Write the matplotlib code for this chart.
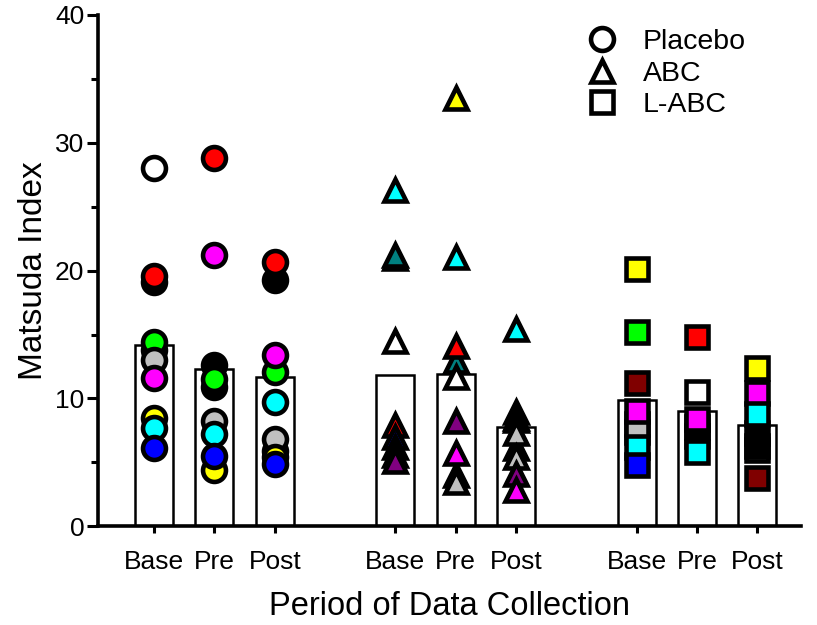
import numpy as np
import matplotlib.pyplot as plt
from matplotlib.lines import Line2D

plt.rcParams['font.family'] = ['Liberation Sans', 'DejaVu Sans']

nan = np.nan

# x positions of the three periods in each group
periods = ['Base', 'Pre', 'Post']
group_pos = {'Placebo': [1, 2, 3], 'ABC': [5, 6, 7], 'L-ABC': [9, 10, 11]}
group_marker = {'Placebo': 'o', 'ABC': '^', 'L-ABC': 's'}

# mean bars (Base, Pre, Post)
placebo_mean = [14.2, 12.3, 11.7]
abc_mean = [11.8, 11.9, 7.8]
labc_mean = [9.9, 9.0, 7.9]

# individual subjects: colour -> [Base, Pre, Post]
placebo_subj = [
    ('white',   [28.0, nan, nan]),
    ('black',   [19.1, 12.6, 19.3]),
    ('red',     [19.6, 28.8, 20.7]),
    ('black',   [13.8, 10.9, 5.9]),
    ('lime',    [14.4, 11.5, 12.1]),
    ('#c0c0c0', [13.0, 8.2, 6.8]),
    ('magenta', [11.6, 21.2, 13.4]),
    ('yellow',  [8.5, 4.4, 5.4]),
    ('cyan',    [7.7, 7.2, 9.7]),
    ('blue',    [6.1, 5.5, 4.85]),
]
abc_subj = [
    ('cyan',    [26.3, 21.1, 15.4]),
    ('black',   [21.0, nan, nan]),
    ('#008080', [21.2, 12.9, 8.3]),
    ('white',   [14.5, 11.7, nan]),
    ('red',     [7.9, 14.1, 8.9]),
    ('black',   [nan, nan, 8.5]),
    ('blue',    [7.0, nan, nan]),
    ('black',   [6.2, 4.0, 6.1]),
    ('#c0c0c0', [nan, 3.5, 7.3]),
    ('#c0c0c0', [nan, nan, 5.4]),
    ('black',   [5.6, nan, nan]),
    ('purple',  [5.1, 8.2, 4.1]),
    ('yellow',  [nan, 33.5, nan]),
    ('magenta', [nan, 5.7, 2.8]),
]
labc_subj = [
    ('yellow',  [20.1, nan, 12.4]),
    ('lime',    [15.2, nan, nan]),
    ('#800000', [11.2, 7.1, 3.8]),
    ('red',     [nan, 14.8, nan]),
    ('white',   [nan, 10.5, nan]),
    ('black',   [8.0, 7.8, 7.3]),
    ('#c0c0c0', [7.4, nan, 6.0]),
    ('black',   [nan, nan, 6.3]),
    ('magenta', [9.0, 8.4, 10.4]),
    ('cyan',    [6.2, 5.8, 8.8]),
    ('blue',    [4.8, nan, nan]),
]

groups = [('Placebo', placebo_mean, placebo_subj),
          ('ABC', abc_mean, abc_subj),
          ('L-ABC', labc_mean, labc_subj)]

fig = plt.figure(figsize=(8.17, 6.25), dpi=100)
ax = fig.add_axes([0.12, 0.158, 0.86, 0.818])

for name, means, subj in groups:
    pos = group_pos[name]
    ax.bar(pos, means, width=0.63, color='white', edgecolor='black',
           linewidth=1.8, zorder=1)
    for col, vals in subj:
        ax.plot(pos, vals, linestyle='none', marker=group_marker[name],
                ms=16.5, mfc=col, mec='black', mew=3.3, zorder=3,
                solid_joinstyle='round')

ax.set_ylim(0, 40)
ax.set_xlim(0.07, 11.72)
ax.set_yticks([0, 10, 20, 30, 40])
ax.set_yticks([5, 15, 25, 35], minor=True)
ax.set_xticks(sum(group_pos.values(), []))
ax.set_xticklabels(periods * 3)
ax.tick_params(axis='y', which='major', length=8, width=2.2, labelsize=19,
               pad=2)
ax.tick_params(axis='y', which='minor', length=5, width=2.2)
ax.tick_params(axis='x', length=5, width=2.2, labelsize=19, pad=12)
for s in ['top', 'right']:
    ax.spines[s].set_visible(False)
for s in ['left', 'bottom']:
    ax.spines[s].set_linewidth(2.6)
ax.set_ylabel('Matsuda Index', fontsize=24, labelpad=4)
ax.set_xlabel('Period of Data Collection', fontsize=23.5, labelpad=12)

handles = [Line2D([], [], linestyle='none', marker=m, ms=16.5, mfc='white',
                  mec='black', mew=3.3) for m in ['o', '^', 's']]
ax.legend(handles, ['Placebo', 'ABC', 'L-ABC'], loc='upper left',
          bbox_to_anchor=(0.652, 1.006), frameon=False, fontsize=20.5,
          handletextpad=0.45, labelspacing=0.2, borderaxespad=0.2)

fig.savefig('out.png', dpi=100)
